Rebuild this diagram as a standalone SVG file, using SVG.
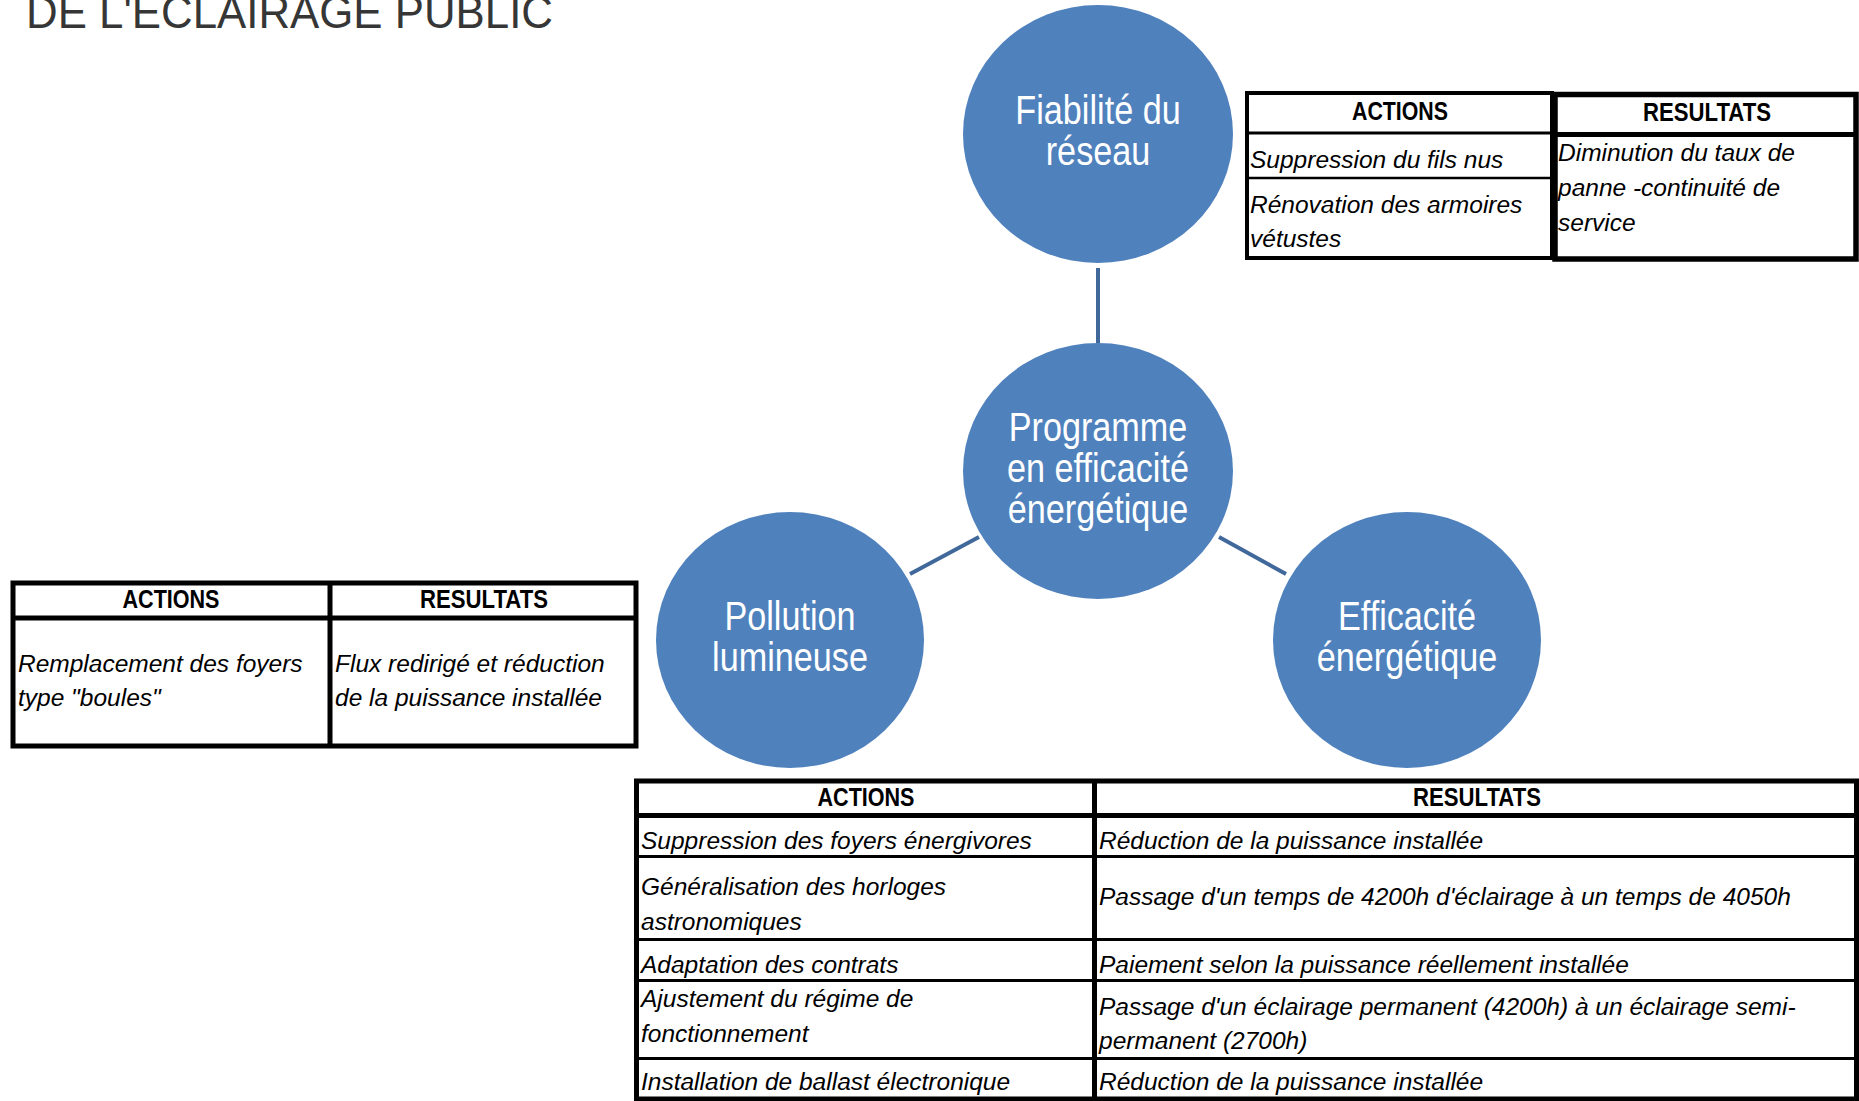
<svg xmlns="http://www.w3.org/2000/svg" width="1859" height="1101" viewBox="0 0 1859 1101">
<style>
.bg{fill:#ffffff}
.title{font-family:"Liberation Sans",Arial,sans-serif;font-size:46px;fill:#363636}
.node{fill:#4F81BD}
.ntext{font-family:"Liberation Sans",Arial,sans-serif;font-size:40px;fill:#ffffff;text-anchor:middle}
.conn{stroke:#41689A;stroke-width:4;fill:none}
.hdr{font-family:"Liberation Sans",Arial,sans-serif;font-size:25px;font-weight:bold;fill:#000;text-anchor:middle}
.cell{font-family:"Liberation Sans",Arial,sans-serif;font-style:italic;font-size:24.5px;fill:#000}
.thick{fill:none;stroke:#000;stroke-width:5}
.mid{fill:none;stroke:#000;stroke-width:4}
.thin{fill:none;stroke:#000;stroke-width:3}
.hair{fill:none;stroke:#000;stroke-width:2.5}
</style>
<rect class="bg" x="0" y="0" width="1859" height="1101"/>

<g id="title">
<text class="title" x="26" y="28" textLength="527" lengthAdjust="spacingAndGlyphs">DE L'ECLAIRAGE PUBLIC</text>
</g>

<g id="connectors">
<line class="conn" x1="1098" y1="268" x2="1098" y2="343"/>
<line class="conn" x1="910" y1="574" x2="979" y2="537"/>
<line class="conn" x1="1219" y1="537" x2="1286" y2="574"/>
</g>

<g id="node-fiabilite">
<ellipse class="node" cx="1098" cy="134" rx="135" ry="129"/>
<g transform="translate(1098 0) scale(0.855 1)">
<text class="ntext" x="0" y="124">Fiabilité du</text>
<text class="ntext" x="0" y="165">réseau</text>
</g>
</g>

<g id="node-programme">
<ellipse class="node" cx="1098" cy="471" rx="135" ry="128"/>
<g transform="translate(1098 0) scale(0.855 1)">
<text class="ntext" x="0" y="441">Programme</text>
<text class="ntext" x="0" y="482">en efficacité</text>
<text class="ntext" x="0" y="523">énergétique</text>
</g>
</g>

<g id="node-pollution">
<ellipse class="node" cx="790" cy="640" rx="134" ry="128"/>
<g transform="translate(790 0) scale(0.855 1)">
<text class="ntext" x="0" y="630">Pollution</text>
<text class="ntext" x="0" y="671">lumineuse</text>
</g>
</g>

<g id="node-efficacite">
<ellipse class="node" cx="1407" cy="640" rx="134" ry="128"/>
<g transform="translate(1407 0) scale(0.855 1)">
<text class="ntext" x="0" y="630">Efficacité</text>
<text class="ntext" x="0" y="671">énergétique</text>
</g>
</g>

<g id="table-fiabilite">
<rect class="mid" x="1247" y="93" width="305" height="165"/>
<line class="thin" x1="1247" y1="133" x2="1552" y2="133"/>
<line class="hair" x1="1247" y1="178" x2="1552" y2="178"/>
<rect fill="none" stroke="#000" stroke-width="5.5" x="1555" y="94.5" width="301" height="164.5"/>
<line class="thick" x1="1555" y1="134.5" x2="1856" y2="134.5"/>
<text class="hdr" x="1400" y="120" textLength="96" lengthAdjust="spacingAndGlyphs">ACTIONS</text>
<text class="hdr" x="1707" y="121" textLength="128" lengthAdjust="spacingAndGlyphs">RESULTATS</text>
<text class="cell" x="1250" y="168">Suppression du fils nus</text>
<text class="cell" x="1250" y="213">Rénovation des armoires</text>
<text class="cell" x="1250" y="247">vétustes</text>
<text class="cell" x="1558" y="161">Diminution du taux de</text>
<text class="cell" x="1558" y="196">panne -continuité de</text>
<text class="cell" x="1558" y="231">service</text>
</g>

<g id="table-pollution">
<rect class="thick" x="13" y="583" width="623" height="163"/>
<line class="thick" x1="13" y1="618" x2="636" y2="618"/>
<line class="thick" x1="330" y1="583" x2="330" y2="746"/>
<text class="hdr" x="171" y="608" textLength="97" lengthAdjust="spacingAndGlyphs">ACTIONS</text>
<text class="hdr" x="484" y="608" textLength="128" lengthAdjust="spacingAndGlyphs">RESULTATS</text>
<text class="cell" x="18" y="672">Remplacement des foyers</text>
<text class="cell" x="18" y="706">type "boules"</text>
<text class="cell" x="335" y="672">Flux redirigé et réduction</text>
<text class="cell" x="335" y="706">de la puissance installée</text>
</g>

<g id="table-efficacite">
<rect class="thick" x="636.5" y="781" width="1220" height="318"/>
<line class="thick" x1="636.5" y1="815.5" x2="1856.5" y2="815.5"/>
<line class="thick" x1="1094.5" y1="781" x2="1094.5" y2="1099"/>
<line class="thin" x1="636.5" y1="856.5" x2="1856.5" y2="856.5"/>
<line class="thin" x1="636.5" y1="939.5" x2="1856.5" y2="939.5"/>
<line class="thin" x1="636.5" y1="980.5" x2="1856.5" y2="980.5"/>
<line class="thin" x1="636.5" y1="1058.5" x2="1856.5" y2="1058.5"/>
<text class="hdr" x="866" y="806" textLength="97" lengthAdjust="spacingAndGlyphs">ACTIONS</text>
<text class="hdr" x="1477" y="806" textLength="128" lengthAdjust="spacingAndGlyphs">RESULTATS</text>
<text class="cell" x="641" y="849">Suppression des foyers énergivores</text>
<text class="cell" x="641" y="895">Généralisation des horloges</text>
<text class="cell" x="641" y="930">astronomiques</text>
<text class="cell" x="641" y="973">Adaptation des contrats</text>
<text class="cell" x="641" y="1007">Ajustement du régime de</text>
<text class="cell" x="641" y="1042">fonctionnement</text>
<text class="cell" x="641" y="1090">Installation de ballast électronique</text>
<text class="cell" x="1099" y="849">Réduction de la puissance installée</text>
<text class="cell" x="1099" y="905">Passage d'un temps de 4200h d'éclairage à un temps de 4050h</text>
<text class="cell" x="1099" y="973">Paiement selon la puissance réellement installée</text>
<text class="cell" x="1099" y="1015">Passage d'un éclairage permanent (4200h) à un éclairage semi-</text>
<text class="cell" x="1099" y="1049">permanent (2700h)</text>
<text class="cell" x="1099" y="1090">Réduction de la puissance installée</text>
</g>
</svg>
